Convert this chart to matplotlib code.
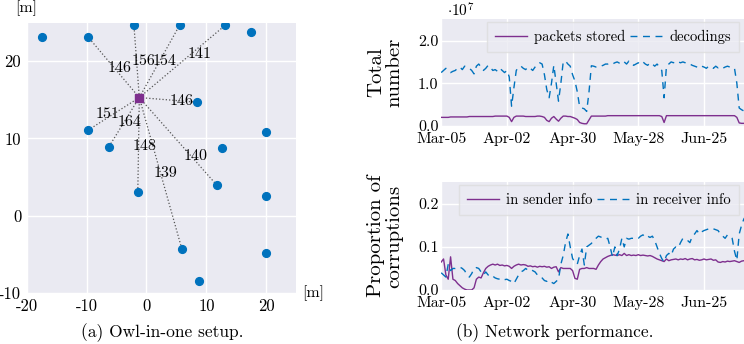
import numpy as np
import pandas as pd
import matplotlib
matplotlib.use("Agg")
import matplotlib.pyplot as plt
import matplotlib.dates as mdates

plt.rcParams['font.family'] = ['cmr10', 'DejaVu Serif']
plt.rcParams['mathtext.fontset'] = 'cm'
plt.rcParams['axes.unicode_minus'] = False
plt.rcParams['axes.facecolor'] = '#EAEAF2'
plt.rcParams['axes.edgecolor'] = 'white'
plt.rcParams['grid.color'] = 'white'
plt.rcParams['grid.linewidth'] = 1.0

BLUE = '#0072BD'
PURPLE = '#7E2F8E'

# ---- (a) node layout [m] ----
hub = (-1.2, 15.3)
node_x = [-17.4, -9.7, -2.1, 5.55, 13.2, 17.5, 8.4, -9.7, -6.3, 12.7, 20.0,
          -1.45, 11.8, 20.0, 5.9, 20.0, 8.8]
node_y = [23.1, 23.1, 24.7, 24.7, 24.7, 23.75, 14.7, 11.1, 8.9, 8.8, 10.8,
          3.05, 3.9, 2.6, -4.3, -4.9, -8.5]
# links from the hub: node index -> label
link_nodes = [1, 2, 3, 4, 6, 7, 8, 11, 12, 14]
link_labels = ['146', '156', '154', '141', '146', '151', '164', '148', '140', '139']
label_frac = [0.49, 0.5, 0.5, 0.6, 0.73, 0.52, 0.5, 0.51, 0.67, 0.5]
label_dx = [0.9, 1.1, 0.85, 1.5, 0.0, -0.9, 0.9, 1.0, 0.7, 0.9]

# ---- (b) network performance, daily ----
dates = pd.date_range('2021-03-05', periods=131, freq='D')
decodings = [
    1.25, 1.30, 1.35, 1.30, 1.25, 1.28, 1.30, 1.35, 1.38, 1.32,
    1.40, 1.38, 1.35, 1.30, 1.22, 1.40, 1.45, 1.38, 1.30, 1.35,
    1.42, 1.37, 1.30, 1.32, 1.28, 1.35, 1.30, 1.25, 1.30, 1.15,
    0.46, 0.90, 1.30, 1.38, 1.40, 1.35, 1.32, 1.38, 1.35, 1.30,
    1.38, 1.45, 1.48, 1.45, 1.20, 0.85, 0.66, 1.00, 1.42, 1.00,
    0.58, 1.00, 1.50, 1.52, 1.45, 1.40, 1.20, 1.05, 0.80, 0.45,
    0.42, 0.40, 0.34, 0.80, 1.41, 1.40, 1.38, 1.38, 1.40, 1.42,
    1.45, 1.45, 1.47, 1.45, 1.48, 1.50, 1.47, 1.45, 1.50, 1.45,
    1.52, 1.48, 1.42, 1.45, 1.48, 1.45, 1.50, 1.45, 1.42, 1.48,
    1.45, 1.40, 1.45, 1.38, 1.30, 0.66, 1.40, 1.45, 1.50, 1.48,
    1.52, 1.50, 1.48, 1.50, 1.48, 1.45, 1.45, 1.42, 1.40, 1.38,
    1.36, 1.40, 1.38, 1.35, 1.40, 1.38, 1.35, 1.40, 1.36, 1.38,
    1.35, 1.38, 1.40, 1.38, 1.36, 1.35, 1.00, 0.42, 0.38, 0.35,
    0.30]
stored = [
    0.20, 0.20, 0.20, 0.20, 0.21, 0.21, 0.21, 0.21, 0.21, 0.21,
    0.21, 0.21, 0.22, 0.22, 0.22, 0.22, 0.22, 0.22, 0.22, 0.22,
    0.22, 0.22, 0.22, 0.23, 0.23, 0.23, 0.23, 0.23, 0.23, 0.20,
    0.10, 0.20, 0.23, 0.23, 0.23, 0.23, 0.22, 0.22, 0.22, 0.22,
    0.22, 0.23, 0.23, 0.22, 0.20, 0.13, 0.10, 0.18, 0.22, 0.16,
    0.11, 0.18, 0.23, 0.23, 0.22, 0.22, 0.20, 0.18, 0.15, 0.08,
    0.06, 0.05, 0.05, 0.14, 0.23, 0.23, 0.23, 0.23, 0.23, 0.23,
    0.23, 0.24, 0.24, 0.24, 0.24, 0.24, 0.24, 0.24, 0.24, 0.24,
    0.24, 0.24, 0.24, 0.24, 0.24, 0.24, 0.24, 0.24, 0.24, 0.24,
    0.24, 0.24, 0.24, 0.24, 0.22, 0.08, 0.24, 0.24, 0.24, 0.24,
    0.24, 0.24, 0.24, 0.24, 0.24, 0.24, 0.24, 0.24, 0.24, 0.24,
    0.24, 0.24, 0.24, 0.24, 0.24, 0.24, 0.24, 0.24, 0.24, 0.24,
    0.24, 0.24, 0.24, 0.24, 0.24, 0.24, 0.20, 0.07, 0.06, 0.06,
    0.06]
sender = [
    0.065, 0.072, 0.035, 0.025, 0.077, 0.025, 0.022, 0.015, 0.010, 0.005,
    0.002, 0.000, 0.000, 0.000, 0.005, 0.025, 0.030, 0.028, 0.040, 0.050,
    0.055, 0.058, 0.060, 0.058, 0.060, 0.057, 0.058, 0.056, 0.057, 0.055,
    0.050, 0.055, 0.058, 0.060, 0.058, 0.059, 0.058, 0.055, 0.056, 0.054,
    0.055, 0.053, 0.055, 0.054, 0.055, 0.053, 0.054, 0.050, 0.053, 0.054,
    0.042, 0.052, 0.050, 0.050, 0.050, 0.050, 0.045, 0.027, 0.025, 0.048,
    0.050, 0.050, 0.052, 0.050, 0.050, 0.050, 0.048, 0.058, 0.066, 0.072,
    0.075, 0.078, 0.080, 0.082, 0.081, 0.080, 0.082, 0.080, 0.085, 0.080,
    0.082, 0.080, 0.081, 0.080, 0.082, 0.080, 0.081, 0.080, 0.079, 0.080,
    0.078, 0.075, 0.072, 0.070, 0.068, 0.066, 0.072, 0.068, 0.070, 0.071,
    0.072, 0.070, 0.072, 0.071, 0.073, 0.070, 0.072, 0.073, 0.070, 0.071,
    0.069, 0.070, 0.072, 0.070, 0.071, 0.072, 0.069, 0.070, 0.065, 0.064,
    0.066, 0.065, 0.067, 0.066, 0.067, 0.068, 0.066, 0.064, 0.067, 0.068,
    0.067]
receiver = [
    0.040, 0.035, 0.030, 0.060, 0.045, 0.050, 0.050, 0.052, 0.053, 0.050,
    0.045, 0.035, 0.030, 0.038, 0.050, 0.052, 0.050, 0.042, 0.035, 0.042,
    0.035, 0.030, 0.032, 0.028, 0.026, 0.025, 0.027, 0.024, 0.025, 0.022,
    0.020, 0.015, 0.025, 0.035, 0.042, 0.045, 0.050, 0.046, 0.048, 0.045,
    0.042, 0.035, 0.030, 0.028, 0.022, 0.020, 0.023, 0.018, 0.015, 0.020,
    0.025, 0.060, 0.080, 0.110, 0.130, 0.100, 0.073, 0.065, 0.060, 0.080,
    0.095, 0.058, 0.100, 0.104, 0.108, 0.115, 0.120, 0.125, 0.123, 0.120,
    0.118, 0.120, 0.100, 0.077, 0.100, 0.080, 0.095, 0.120, 0.100, 0.120,
    0.118, 0.120, 0.120, 0.122, 0.120, 0.125, 0.128, 0.122, 0.125, 0.122,
    0.125, 0.115, 0.100, 0.085, 0.073, 0.065, 0.080, 0.085, 0.080, 0.095,
    0.100, 0.098, 0.110, 0.120, 0.118, 0.115, 0.110, 0.125, 0.130, 0.138,
    0.130, 0.135, 0.138, 0.140, 0.142, 0.140, 0.142, 0.140, 0.138, 0.130,
    0.125, 0.120, 0.128, 0.125, 0.120, 0.090, 0.069, 0.130, 0.150, 0.165,
    0.173]

fig = plt.figure(figsize=(7.44, 3.44), dpi=100)

# (a)
ax = fig.add_axes([0.036, 0.149, 0.362, 0.785])
for i, lab, t, dx in zip(link_nodes, link_labels, label_frac, label_dx):
    nx, ny = node_x[i], node_y[i]
    ax.plot([hub[0], nx], [hub[1], ny], ls=':', color='#555555', lw=0.9, zorder=2)
    ax.text(hub[0] + t * (nx - hub[0]) + dx, hub[1] + t * (ny - hub[1]), lab,
            ha='center', va='center', fontsize=11.5, zorder=3)
ax.plot(node_x, node_y, 'o', color=BLUE, ms=5.6, ls='none', zorder=4)
ax.plot([hub[0]], [hub[1]], 's', color=PURPLE, ms=5.8, zorder=5)
ax.set_xlim(-20, 25)
ax.set_ylim(-10, 25)
ax.set_xticks([-20, -10, 0, 10, 20])
ax.set_yticks([-10, 0, 10, 20])
ax.grid(True)
ax.set_axisbelow(True)
ax.tick_params(length=0, labelsize=12, pad=4)
for s in ax.spines.values():
    s.set_visible(False)
fig.text(26 / 744, 1 - 8 / 344, '[m]', ha='center', va='center', fontsize=11.5)
fig.text(313 / 744, 1 - 293 / 344, '[m]', ha='center', va='center', fontsize=11.5)
fig.text(162 / 744, 1 - 333 / 344, '(a) Owl-in-one setup.', ha='center',
         va='center', fontsize=12.5)

# (b) top
ax1 = fig.add_axes([0.593, 0.634, 0.41, 0.310])
ax1.plot(dates, stored, color=PURPLE, lw=1.0, label='packets stored')
ax1.plot(dates, decodings, color=BLUE, lw=1.0, ls=(0, (5, 4)), label='decodings')
ax1.set_ylim(0, 2.5)
ax1.set_yticks([0.0, 1.0, 2.0])
ax1.set_yticklabels(['0.0', '1.0', '2.0'])
ax1.set_ylabel('Total\nnumber', fontsize=15, linespacing=1.0)
ax1.text(0.02, 1.08, r'$\cdot 10^{7}$', transform=ax1.transAxes, fontsize=11,
         va='center', ha='left')

# (b) bottom
ax2 = fig.add_axes([0.593, 0.157, 0.41, 0.313])
ax2.plot(dates, sender, color=PURPLE, lw=1.0, label='in sender info')
ax2.plot(dates, receiver, color=BLUE, lw=1.0, ls=(0, (5, 4)), label='in receiver info')
ax2.set_ylim(0, 0.25)
ax2.set_yticks([0.0, 0.1, 0.2])
ax2.set_yticklabels(['0.0', '0.1', '0.2'])
ax2.set_ylabel('Proportion of\ncorruptions', fontsize=15, linespacing=1.0)

for a in (ax1, ax2):
    a.set_xlim(dates[0], dates[-1])
    a.set_xticks(dates[::28])
    a.xaxis.set_major_formatter(mdates.DateFormatter('%b-%d'))
    a.grid(True)
    a.tick_params(axis='y', length=0, labelsize=11.5, pad=2)
    a.tick_params(axis='x', length=0, labelsize=11.5, pad=4.5)
    for s in a.spines.values():
        s.set_visible(False)
    a.yaxis.set_label_coords(-0.125, 0.5)
    a.legend(loc='upper right', ncol=2, fontsize=10.5, columnspacing=0.3,
             handlelength=2.2, handletextpad=0.5, borderaxespad=0.2,
             borderpad=0.55, fancybox=False, framealpha=0.8,
             edgecolor='#DDDDDD', bbox_to_anchor=(0.985, 1.0))

fig.text(555 / 744, 1 - 333 / 344, '(b) Network performance.', ha='center',
         va='center', fontsize=12.5)

fig.savefig('out.png', dpi=100)
